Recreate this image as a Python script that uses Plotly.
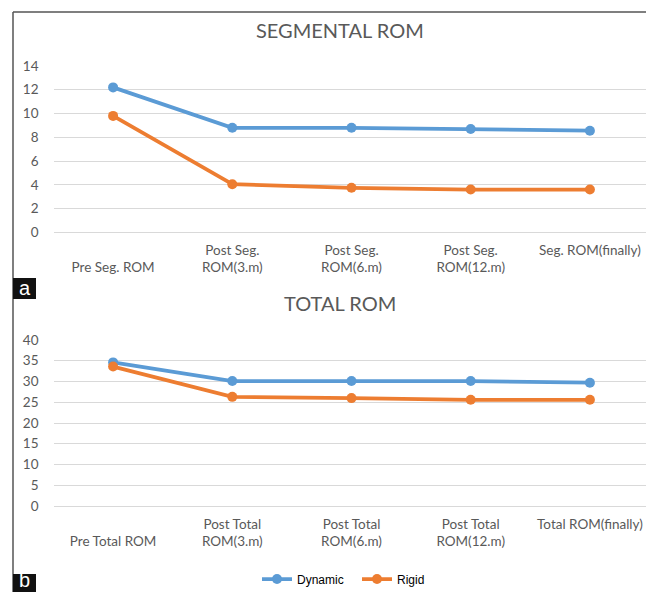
import plotly.graph_objects as go

W, H = 646, 592

seg_categories = ["<br>Pre Seg. ROM", "Post Seg.<br>ROM(3.m)", "Post Seg.<br>ROM(6.m)",
                  "Post Seg.<br>ROM(12.m)", "Seg. ROM(finally)"]
seg_dynamic = [12.2, 8.8, 8.8, 8.7, 8.55]
seg_rigid = [9.8, 4.05, 3.75, 3.6, 3.6]

tot_categories = ["<br>Pre Total ROM", "Post Total<br>ROM(3.m)", "Post Total<br>ROM(6.m)",
                  "Post Total<br>ROM(12.m)", "Total ROM(finally)"]
tot_dynamic = [34.6, 30.1, 30.1, 30.1, 29.7]
tot_rigid = [33.6, 26.3, 26.0, 25.6, 25.6]

seg_yticks = [0, 2, 4, 6, 8, 10, 12, 14]
tot_yticks = [0, 5, 10, 15, 20, 25, 30, 35, 40]

BLUE = "#5B9BD5"
ORANGE = "#ED7D31"
GRID = "#D9D9D9"
TXT = "#595959"
FONT = "Lato"

def px_x(p):
    return p / W

def px_y(p):
    return 1 - p / H

fig = go.Figure()

def add(cats, vals, color, name, xa, ya, show):
    fig.add_trace(go.Scatter(
        x=list(range(len(cats))), y=vals, mode="lines+markers", name=name,
        line=dict(color=color, width=3.75), marker=dict(color=color, size=10),
        xaxis=xa, yaxis=ya, showlegend=show, cliponaxis=False,
    ))

add(seg_categories, seg_dynamic, BLUE, "Dynamic", "x", "y", True)
add(seg_categories, seg_rigid, ORANGE, "Rigid", "x", "y", True)
add(tot_categories, tot_dynamic, BLUE, "Dynamic", "x2", "y2", False)
add(tot_categories, tot_rigid, ORANGE, "Rigid", "x2", "y2", False)

xdom = [px_x(53.5), 1.0]
xrange = [-0.5, -0.5 + (W - 53.5) / 119.2]

def xaxis(cats, anchor):
    return dict(domain=xdom, range=xrange, tickmode="array",
                tickvals=list(range(len(cats))), ticktext=cats,
                showgrid=False, zeroline=False, showline=False, ticks="",
                tickfont=dict(family=FONT, size=13.5, color=TXT),
                ticklabelstandoff=8, anchor=anchor, automargin=False)

def yaxis(ticks, dom, anchor):
    return dict(domain=dom, range=[ticks[0], ticks[-1]], tickmode="array",
                tickvals=ticks, showgrid=True, gridcolor=GRID, gridwidth=1.2,
                zeroline=True, zerolinecolor=GRID, zerolinewidth=1.2,
                showline=False, ticks="",
                tickfont=dict(family=FONT, size=13.5, color=TXT),
                ticklabelstandoff=14, anchor=anchor, automargin=False)

fig.update_layout(
    template="none",
    width=W, height=H, autosize=False,
    margin=dict(l=0, r=0, t=0, b=0, pad=0, autoexpand=False),
    paper_bgcolor="white", plot_bgcolor="white",
    xaxis=xaxis(seg_categories, "y"),
    yaxis=yaxis(seg_yticks, [px_y(232.3), px_y(66)], "x"),
    xaxis2=xaxis(tot_categories, "y2"),
    yaxis2=yaxis(tot_yticks, [px_y(506), px_y(340)], "x2"),
    legend=dict(orientation="h", x=px_x(257), xanchor="left", y=px_y(579), yanchor="middle",
                font=dict(family="Liberation Sans", size=12, color="black"),
                itemwidth=30, entrywidth=55, entrywidthmode="pixels",
                bgcolor="rgba(0,0,0,0)", borderwidth=0),
    showlegend=True,
)

annotations = [
    dict(text="SEGMENTAL ROM", x=px_x(340), y=px_y(30), xref="paper", yref="paper",
         showarrow=False, font=dict(family=FONT, size=20, color=TXT), xanchor="center", yanchor="middle"),
    dict(text="TOTAL ROM", x=px_x(340), y=px_y(303), xref="paper", yref="paper",
         showarrow=False, font=dict(family=FONT, size=20, color=TXT), xanchor="center", yanchor="middle"),
    dict(text="a", x=px_x(24.5), y=px_y(288), xref="paper", yref="paper",
         showarrow=False, font=dict(family="Liberation Sans", size=20, color="white"), xanchor="center", yanchor="middle"),
    dict(text="b", x=px_x(24.5), y=px_y(580), xref="paper", yref="paper",
         showarrow=False, font=dict(family="Liberation Sans", size=20, color="white"), xanchor="center", yanchor="middle"),
]
fig.update_layout(annotations=annotations)

shapes = [
    dict(type="line", xref="paper", yref="paper", x0=px_x(13), x1=1, y0=px_y(12), y1=px_y(12),
         line=dict(color="#555555", width=1.5)),
    dict(type="line", xref="paper", yref="paper", x0=px_x(13), x1=px_x(13), y0=px_y(12), y1=0,
         line=dict(color="#555555", width=1.5)),
    dict(type="rect", xref="paper", yref="paper", x0=px_x(13), x1=px_x(36), y0=px_y(299), y1=px_y(278),
         fillcolor="#111111", line=dict(width=0)),
    dict(type="rect", xref="paper", yref="paper", x0=px_x(13), x1=px_x(36), y0=0, y1=px_y(574),
         fillcolor="#111111", line=dict(width=0)),
]
fig.update_layout(shapes=shapes)

fig.write_html("out.html", config={"displayModeBar": False},
               post_script="document.body.style.margin='0';document.body.style.padding='0';document.documentElement.style.overflow='hidden';document.body.style.overflow='hidden';")
